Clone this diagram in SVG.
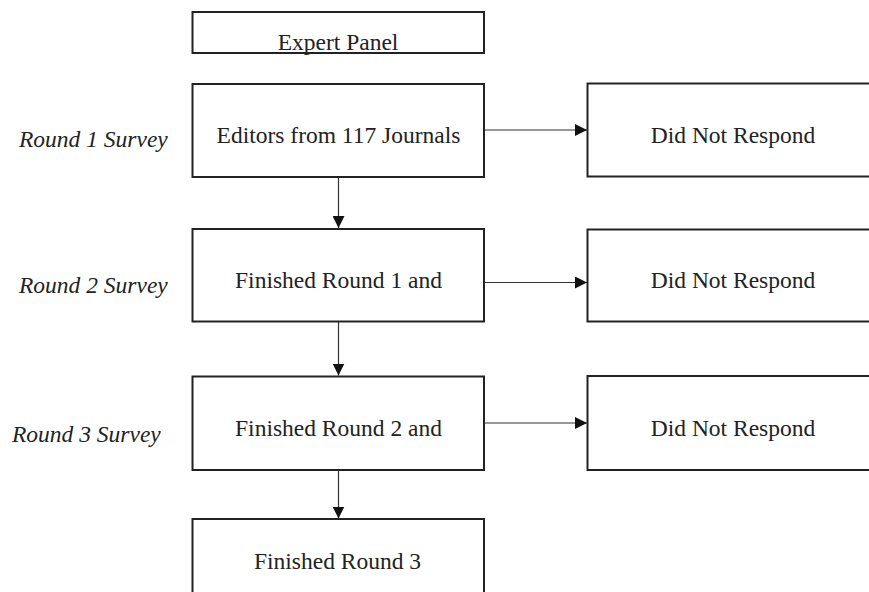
<svg xmlns="http://www.w3.org/2000/svg" width="869" height="592" viewBox="0 0 869 592">
<style>
.box{fill:#fff;stroke:#222;stroke-width:2}
.t{font-family:"Liberation Serif","Times New Roman",serif;font-size:23.5px;fill:#222;text-anchor:middle}
.lab{font-family:"Liberation Serif","Times New Roman",serif;font-size:23.5px;font-style:italic;fill:#222}
.c{stroke:#333;stroke-width:1.2;fill:none;marker-end:url(#ah)}
</style>
<defs>
<marker id="ah" markerUnits="userSpaceOnUse" markerWidth="12" markerHeight="12" viewBox="0 0 10 10" refX="10" refY="5" orient="auto">
<path d="M0,0 L10,5 L0,10 Z" fill="#111"/>
</marker>
</defs>
<rect width="869" height="592" fill="#fff"/>
<g id="labels">
<text class="lab" x="19" y="147">Round 1 Survey</text>
<text class="lab" x="19" y="293">Round 2 Survey</text>
<text class="lab" x="12" y="442">Round 3 Survey</text>
</g>
<g id="connectors">
<line class="c" x1="484" y1="130" x2="587" y2="130"/>
<line class="c" x1="484" y1="282.5" x2="587" y2="282.5"/>
<line class="c" x1="484" y1="423" x2="587" y2="423"/>
<line class="c" x1="338.5" y1="177" x2="338.5" y2="228"/>
<line class="c" x1="338.5" y1="321.5" x2="338.5" y2="375.5"/>
<line class="c" x1="338.5" y1="470" x2="338.5" y2="518.5"/>
</g>
<g id="expert">
<rect class="box" x="192.5" y="12" width="291.5" height="41"/>
<text class="t" x="338" y="50">Expert Panel</text>
</g>
<g id="editors">
<rect class="box" x="192.5" y="84" width="291.5" height="93"/>
<text class="t" x="338.5" y="143">Editors from 117 Journals</text>
</g>
<g id="dnr1">
<rect class="box" x="587.5" y="83.5" width="300" height="93"/>
<text class="t" x="733" y="143">Did Not Respond</text>
</g>
<g id="fin1">
<rect class="box" x="192.5" y="229" width="291.5" height="92.5"/>
<text class="t" x="338.5" y="288">Finished Round 1 and</text>
</g>
<g id="dnr2">
<rect class="box" x="587.5" y="229.5" width="300" height="92"/>
<text class="t" x="733" y="288">Did Not Respond</text>
</g>
<g id="fin2">
<rect class="box" x="192.5" y="376.5" width="291.5" height="93.5"/>
<text class="t" x="338.5" y="436">Finished Round 2 and</text>
</g>
<g id="dnr3">
<rect class="box" x="587.5" y="376" width="300" height="94"/>
<text class="t" x="733" y="436">Did Not Respond</text>
</g>
<g id="fin3">
<rect class="box" x="192.5" y="519" width="291.5" height="100"/>
<text class="t" x="337.5" y="569">Finished Round 3</text>
</g>
</svg>
